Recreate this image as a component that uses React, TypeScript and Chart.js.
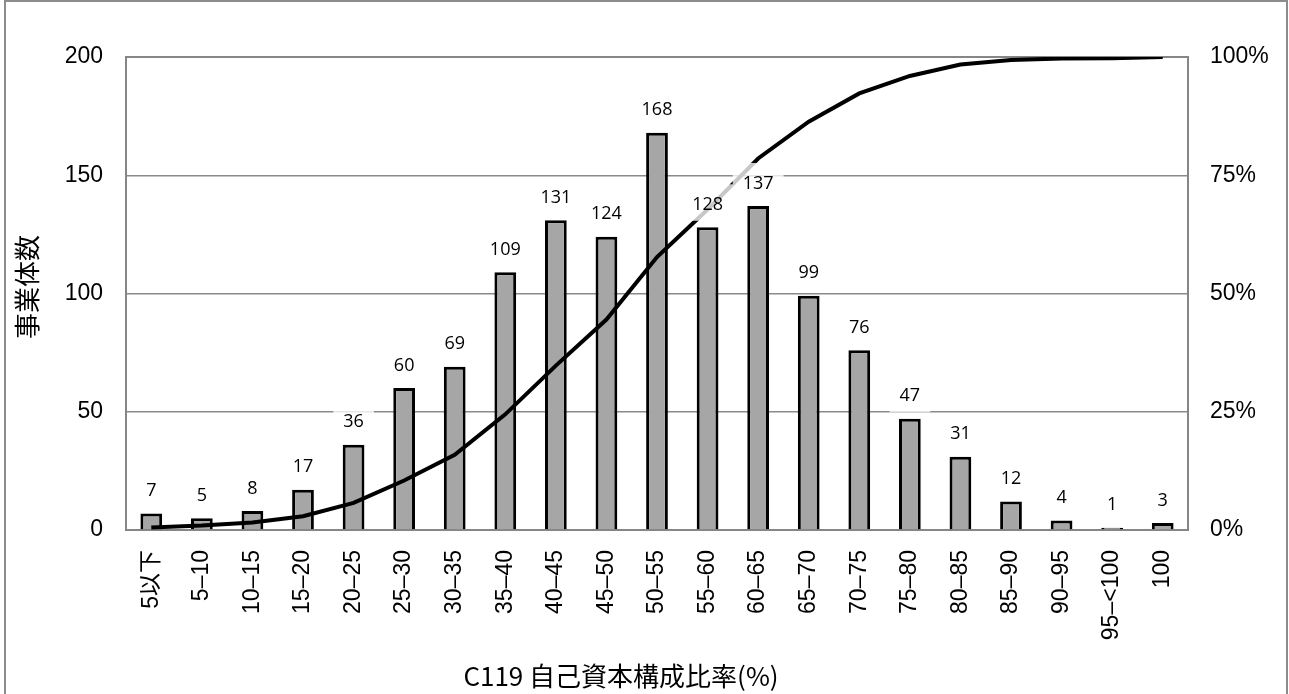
import React, { useEffect, useRef } from "react";
import { Chart, registerables } from "chart.js";

Chart.register(...registerables);

const categories = ["5以下", "5–10", "10–15", "15–20", "20–25", "25–30", "30–35", "35–40", "40–45", "45–50", "50–55", "55–60", "60–65", "65–70", "70–75", "75–80", "80–85", "85–90", "90–95", "95–<100", "100"];
const counts = [7, 5, 8, 17, 36, 60, 69, 109, 131, 124, 168, 128, 137, 99, 76, 47, 31, 12, 4, 1, 3];
const cumulativePct = [0.55, 0.94, 1.57, 2.91, 5.74, 10.46, 15.88, 24.45, 34.75, 44.5, 57.7, 67.77, 78.54, 86.32, 92.3, 95.99, 98.43, 99.37, 99.69, 99.76, 100];
const yTitle = "事業体数";
const xTitle = "C119 自己資本構成比率(%)";

const TICK_FONT = "'Liberation Sans', 'Noto Sans CJK JP', sans-serif";
const CJK_FONT = "'Noto Sans CJK JP', 'Liberation Sans', sans-serif";
const LABEL_FONT = "'Open Sans', sans-serif";

const framePlugin = {
  id: "frame",
  beforeDraw(chart: any) {
    const ctx = chart.ctx;
    ctx.save();
    ctx.fillStyle = "#ffffff";
    ctx.fillRect(0, 0, chart.width, chart.height);
    ctx.strokeStyle = "#8c8c8c";
    ctx.lineWidth = 2;
    ctx.strokeRect(5, 1, 1282, 760);
    ctx.restore();
  },
  beforeDatasetsDraw(chart: any) {
    const { ctx, chartArea } = chart;
    ctx.save();
    ctx.strokeStyle = "#868686";
    ctx.lineWidth = 2;
    ctx.strokeRect(chartArea.left, chartArea.top, chartArea.right - chartArea.left, chartArea.bottom - chartArea.top);
    ctx.restore();
  },
  afterDatasetsDraw(chart: any) {
    const ctx = chart.ctx;
    const meta = chart.getDatasetMeta(0);
    ctx.save();
    ctx.font = `18px ${LABEL_FONT}`;
    ctx.textAlign = "center";
    ctx.textBaseline = "middle";
    meta.data.forEach((bar: any, i: number) => {
      const txt = String(counts[i]);
      const w = ctx.measureText(txt).width + 20;
      const cy = bar.y - 23.5;
      ctx.fillStyle = "rgba(255,255,255,0.78)";
      ctx.fillRect(bar.x - w / 2, cy - 19.5, w, 36.5);
      ctx.fillStyle = "#000000";
      ctx.fillText(txt, bar.x, cy + 1);
    });
    ctx.restore();
  },
  afterDraw(chart: any) {
    const ctx = chart.ctx;
    ctx.save();
    ctx.fillStyle = "#000000";
    ctx.font = `26px ${CJK_FONT}`;
    ctx.textAlign = "center";
    ctx.textBaseline = "middle";
    ctx.fillText(xTitle, 621, 676);
    ctx.translate(27.5, 287);
    ctx.rotate(-Math.PI / 2);
    ctx.fillText(yTitle, 0, 0);
    ctx.restore();
  },
};

export default function App() {
  const ref = useRef<HTMLCanvasElement | null>(null);
  useEffect(() => {
    if (!ref.current) return;
    const chart = new Chart(ref.current, {
      type: "bar",
      data: {
        labels: categories,
        datasets: [
          {
            type: "bar",
            label: "事業体数",
            data: counts,
            backgroundColor: "#a6a6a6",
            borderColor: "#000000",
            borderWidth: 3,
            categoryPercentage: 1,
            barPercentage: 0.43,
            yAxisID: "y",
            order: 1,
          },
          {
            type: "line",
            label: "累積",
            data: cumulativePct,
            borderColor: "#000000",
            borderWidth: 4,
            pointRadius: 0,
            tension: 0,
            fill: false,
            yAxisID: "y1",
            order: 0,
          },
        ],
      },
      options: {
        responsive: false,
        animation: false,
        layout: { padding: { top: 57, left: 0, right: 0, bottom: 0 } },
        plugins: { legend: { display: false }, tooltip: { enabled: false } },
        scales: {
          x: {
            grid: { display: false, drawTicks: false },
            border: { display: false },
            ticks: {
              autoSkip: false,
              maxRotation: 90,
              minRotation: 90,
              padding: 20,
              color: "#000000",
              font: { size: 23, family: TICK_FONT },
            },
            afterFit(s: any) {
              s.height = 164;
            },
          },
          y: {
            position: "left",
            min: 0,
            max: 200,
            grid: { color: "#8a8a8a", lineWidth: 1.5, drawTicks: false },
            border: { display: false },
            ticks: {
              stepSize: 50,
              padding: 23,
              color: "#000000",
              font: { size: 23, family: TICK_FONT },
            },
            afterFit(s: any) {
              s.width = 126;
            },
          },
          y1: {
            position: "right",
            min: 0,
            max: 100,
            grid: { display: false, drawTicks: false },
            border: { display: false },
            ticks: {
              stepSize: 25,
              padding: 22,
              color: "#000000",
              font: { size: 23, family: TICK_FONT },
              callback: (v: any) => `${v}%`,
            },
            afterFit(s: any) {
              s.width = 101;
            },
          },
        },
      },
      plugins: [framePlugin],
    });
    return () => chart.destroy();
  }, []);
  return (
    <div style={{ position: "absolute", left: 0, top: 0, width: 1289, height: 694, background: "#fff" }}>
      <canvas ref={ref} width={1289} height={694} style={{ display: "block" }} />
    </div>
  );
}
